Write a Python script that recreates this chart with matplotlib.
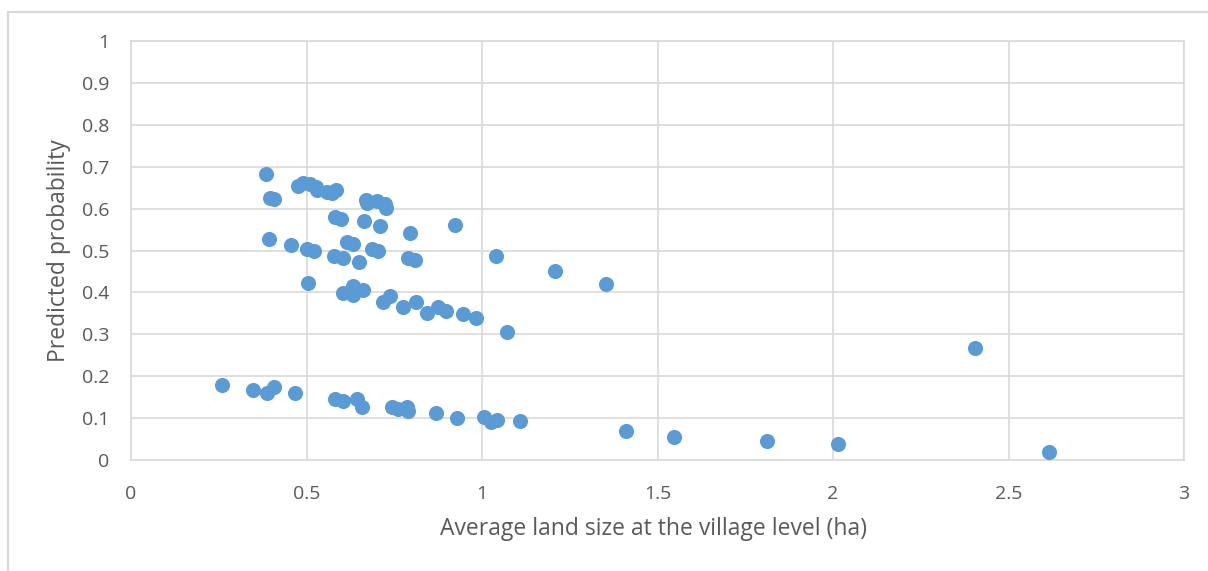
import matplotlib.pyplot as plt
from matplotlib.patches import Rectangle

# average land size (ha) vs predicted probability
land_size = [
    0.385, 0.476, 0.49, 0.51, 0.527, 0.53, 0.558, 0.573, 0.584, 0.396, 0.407,
    0.67, 0.672, 0.70, 0.724, 0.726,
    0.58, 0.597, 0.665, 0.709, 0.795, 0.924,
    0.394, 0.457, 0.502, 0.521, 0.614, 0.633, 0.686, 0.705,
    0.578, 0.603, 0.649, 0.790, 0.809, 1.039, 1.208, 1.353,
    0.505, 0.605, 0.632, 0.633, 0.662, 0.717, 0.738, 0.776, 0.812,
    0.844, 0.874, 0.897, 0.947, 0.982, 1.070, 2.405,
    0.260, 0.349, 0.387, 0.406, 0.467, 0.581, 0.603, 0.645, 0.659,
    0.743, 0.762, 0.785, 0.790, 0.869, 0.928, 1.006, 1.025, 1.042, 1.108,
    1.410, 1.547, 1.812, 2.014, 2.615,
]
pred_prob = [
    0.683, 0.654, 0.661, 0.659, 0.652, 0.644, 0.640, 0.637, 0.644, 0.625, 0.623,
    0.621, 0.613, 0.618, 0.611, 0.601,
    0.580, 0.575, 0.570, 0.559, 0.541, 0.561,
    0.527, 0.514, 0.504, 0.499, 0.520, 0.515, 0.504, 0.500,
    0.487, 0.481, 0.472, 0.481, 0.477, 0.487, 0.451, 0.420,
    0.422, 0.399, 0.415, 0.394, 0.406, 0.376, 0.392, 0.364, 0.376,
    0.352, 0.364, 0.356, 0.348, 0.340, 0.306, 0.267,
    0.179, 0.167, 0.159, 0.175, 0.159, 0.145, 0.141, 0.145, 0.127,
    0.126, 0.122, 0.127, 0.118, 0.111, 0.100, 0.103, 0.091, 0.095, 0.094,
    0.069, 0.055, 0.045, 0.038, 0.019,
]

xticks = [0, 0.5, 1, 1.5, 2, 2.5, 3]
xticklabels = ['0', '0.5', '1', '1.5', '2', '2.5', '3']
yticks = [0, 0.1, 0.2, 0.3, 0.4, 0.5, 0.6, 0.7, 0.8, 0.9, 1]
yticklabels = ['0', '0.1', '0.2', '0.3', '0.4', '0.5', '0.6', '0.7', '0.8', '0.9', '1']

plt.rcParams['font.family'] = ['Open Sans', 'DejaVu Sans']

W, H = 1208, 571
fig = plt.figure(figsize=(W / 100, H / 100), dpi=100)
ax = fig.add_axes([131 / W, 1 - 460 / H, (1184 - 131) / W, (460 - 41) / H])

# outer chart frame (cut off at right and bottom)
fig.patches.append(Rectangle((8 / W, -0.1), 1.2, 1 - 12 / H + 0.1, transform=fig.transFigure,
                             fill=False, edgecolor='#d9d9d9', linewidth=1.5))

ax.scatter(land_size, pred_prob, s=118, color='#5b9bd5', zorder=3, linewidths=0)

ax.set_xlim(0, 3)
ax.set_ylim(0, 1)
ax.set_xticks(xticks)
ax.set_xticklabels(xticklabels)
ax.set_yticks(yticks)
ax.set_yticklabels(yticklabels)
ax.grid(True, color='#d9d9d9', linewidth=1.2)
ax.set_axisbelow(True)
for sp in ax.spines.values():
    sp.set_color('#d9d9d9')
    sp.set_linewidth(1.2)
ax.tick_params(length=0, labelsize=14, colors='#595959')
ax.tick_params(axis='x', pad=18)
ax.tick_params(axis='y', pad=15.5)

ax.set_xlabel('Average land size at the village level (ha)', fontsize=16.5, color='#595959')
ax.set_ylabel('Predicted probability', fontsize=16.5, color='#595959')
ax.xaxis.label.set_va('center')
ax.yaxis.label.set_va('center')
ax.xaxis.set_label_coords((653 - 131) / 1053, (460 - 529) / 419)
ax.yaxis.set_label_coords((59 - 131) / 1053, 0.5)

fig.savefig('out.png', dpi=100)
